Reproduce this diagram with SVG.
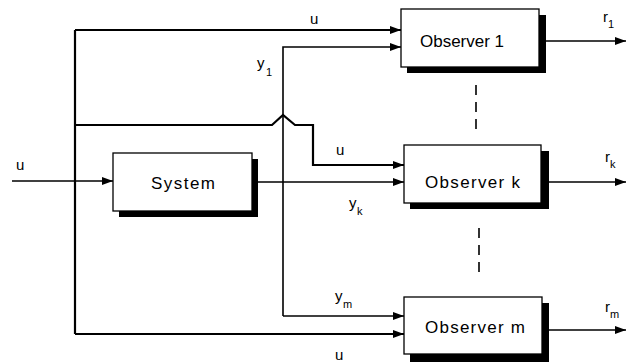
<svg xmlns="http://www.w3.org/2000/svg" width="627" height="363" viewBox="0 0 627 363">
<style>
.ln{fill:none;stroke:#000;stroke-width:1.6}
.tk{fill:none;stroke:#000;stroke-width:2.2}
.box{fill:#fff;stroke:#000;stroke-width:1.3}
.sh{fill:#000}
.bt{font-family:"Liberation Sans",Arial,sans-serif;font-size:17px;fill:#000}
.lb{font-family:"Liberation Sans",Arial,sans-serif;font-size:15px;fill:#000}
.sb{font-family:"Liberation Sans",Arial,sans-serif;font-size:11px;fill:#000}
.dash{fill:none;stroke:#000;stroke-width:1.6;stroke-dasharray:10,7}
</style>
<defs>
<marker id="ar" viewBox="0 0 11 8" refX="11" refY="4" markerWidth="11" markerHeight="8" markerUnits="userSpaceOnUse" orient="auto">
<path d="M0,0 L11,4 L0,8 Z" fill="#000"/>
</marker>
</defs>
<g id="connectors">
<path class="ln" d="M12,181 L113,181" marker-end="url(#ar)"/>
<path class="tk" d="M75,30 L75,334"/>
<path class="tk" d="M75,30 L401,30" marker-end="url(#ar)"/>
<path class="ln" d="M283,316 L283,47 L401,47" marker-end="url(#ar)"/>
<path class="tk" d="M75,125 L272,125 L283,115 L295,125 L313,125 L313,165 L404,165" marker-end="url(#ar)"/>
<path class="ln" d="M258,182 L404,182" marker-end="url(#ar)"/>
<path class="ln" d="M283,316 L404,316" marker-end="url(#ar)"/>
<path class="tk" d="M75,334 L404,334" marker-end="url(#ar)"/>
<path class="ln" d="M546,41 L626,41" marker-end="url(#ar)"/>
<path class="ln" d="M549,182 L626,182" marker-end="url(#ar)"/>
<path class="ln" d="M549,330 L626,330" marker-end="url(#ar)"/>
<path class="dash" d="M476,85 L476,133"/>
<path class="dash" d="M479,228 L479,277"/>
</g>
<g id="labels">
<text class="lb" x="310" y="24">u</text>
<text class="lb" x="16" y="170">u</text>
<text class="lb" x="257" y="68">y</text><text class="sb" x="266" y="76">1</text>
<text class="lb" x="336" y="155">u</text>
<text class="lb" x="349" y="208">y</text><text class="sb" x="357" y="215">k</text>
<text class="lb" x="335" y="301">y</text><text class="sb" x="343" y="308">m</text>
<text class="lb" x="335" y="360">u</text>
<text class="lb" x="603" y="22">r</text><text class="sb" x="608" y="28">1</text>
<text class="lb" x="605" y="162">r</text><text class="sb" x="610" y="168">k</text>
<text class="lb" x="605" y="312">r</text><text class="sb" x="610" y="318">m</text>
</g>
<g id="system">
<rect class="sh" x="119" y="159" width="139" height="58"/>
<rect class="box" x="113" y="153" width="139" height="58"/>
<text class="bt" x="151" y="189" textLength="64">System</text>
</g>
<g id="observer1">
<rect class="sh" x="407" y="15" width="139" height="58"/>
<rect class="box" x="401" y="9" width="138" height="58"/>
<text class="bt" x="420" y="47" textLength="84">Observer 1</text>
</g>
<g id="observerk">
<rect class="sh" x="410" y="151" width="139" height="58"/>
<rect class="box" x="404" y="145" width="137" height="58"/>
<text class="bt" x="425" y="188" textLength="95">Observer k</text>
</g>
<g id="observerm">
<rect class="sh" x="410" y="303" width="139" height="59"/>
<rect class="box" x="404" y="297" width="138" height="57"/>
<text class="bt" x="425" y="333" textLength="100">Observer m</text>
</g>
</svg>
